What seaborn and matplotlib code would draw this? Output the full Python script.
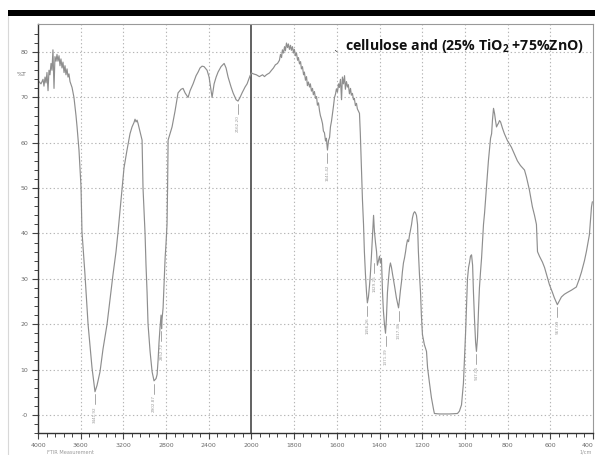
import numpy as np
import pandas as pd
import matplotlib
matplotlib.use("Agg")
import matplotlib.pyplot as plt
import seaborn as sns
from matplotlib.ticker import FixedLocator, NullFormatter
from matplotlib.patches import Rectangle
from matplotlib.lines import Line2D

# ---------------- data ----------------
wavenumber = [
    3991, 3972, 3953, 3944, 3934, 3925, 3916, 3906, 3897, 3888, 3878, 3869, 3860, 3850,
    3841, 3831, 3822, 3813, 3803, 3794, 3785, 3775, 3766, 3756, 3747, 3738, 3728, 3719,
    3710, 3700, 3681, 3663, 3644, 3634, 3616, 3597, 3588, 3560, 3531, 3494, 3466, 3447,
    3419, 3391, 3353, 3325, 3297, 3269, 3250, 3232, 3213, 3194, 3166, 3138, 3119, 3100,
    3091, 3081, 3072, 3063, 3044, 3025, 3016, 3006, 2997, 2988, 2978, 2969, 2950, 2931,
    2913, 2894, 2884, 2875, 2866, 2856, 2847, 2842, 2838, 2828, 2819, 2809, 2800, 2791,
    2786, 2781, 2763, 2744, 2716, 2688, 2660, 2641, 2622, 2594, 2575, 2547, 2519, 2500,
    2482, 2463, 2444, 2416, 2397, 2388, 2378, 2369, 2360, 2350, 2331, 2313, 2285, 2256,
    2238, 2219, 2191, 2172, 2144, 2126, 2107, 2088, 2060, 2041, 2013, 2000,
    1991, 1977, 1963, 1948, 1939, 1930, 1916, 1906, 1897, 1888, 1878, 1869, 1864, 1859,
    1855, 1850, 1845, 1841, 1836, 1831, 1827, 1822, 1817, 1813, 1808, 1803, 1799, 1794,
    1789, 1784, 1780, 1775, 1770, 1766, 1761, 1756, 1752, 1747, 1742, 1738, 1733, 1728,
    1724, 1719, 1714, 1710, 1705, 1700, 1695, 1691, 1686, 1681, 1677, 1672, 1667, 1663,
    1658, 1653, 1649, 1644, 1639, 1634, 1630, 1625, 1620, 1616, 1611, 1606, 1602, 1597,
    1592, 1588, 1583, 1578, 1574, 1569, 1564, 1560, 1555, 1550, 1546, 1541, 1536, 1532,
    1527, 1522, 1518, 1513, 1508, 1504, 1499, 1494, 1490, 1485, 1480, 1475, 1471, 1466,
    1461, 1457, 1452, 1447, 1443, 1438, 1433, 1428, 1424, 1419, 1414, 1410, 1405, 1400,
    1396, 1391, 1386, 1382, 1377, 1372, 1368, 1363, 1358, 1353, 1349, 1344, 1339, 1330,
    1321, 1311, 1307, 1302, 1297, 1293, 1288, 1283, 1278, 1274, 1269, 1264, 1260, 1255,
    1250, 1246, 1241, 1236, 1232, 1227, 1222, 1218, 1213, 1208, 1204, 1199, 1194, 1190,
    1180, 1175, 1166, 1157, 1147, 1143, 1119, 1073, 1035, 1026, 1016, 1007, 1002, 997,
    993, 988, 983, 978, 974, 969, 964, 960, 955, 950, 946, 941, 936, 932, 927, 922, 918,
    913, 908, 904, 899, 894, 890, 885, 880, 875, 871, 866, 861, 857, 852, 847, 843, 838,
    833, 829, 824, 815, 801, 782, 768, 754, 740, 721, 712, 698, 684, 674, 665, 660, 651,
    637, 627, 618, 604, 590, 581, 571, 567, 557, 548, 534, 520, 501, 478, 464, 454, 440,
    431, 417, 407, 403,
]
transmittance = [
    73.5, 73.0, 74.0, 72.5, 74.5, 73.2, 75.5, 71.5, 76.0, 75.0, 77.5, 76.0, 80.5, 72.0,
    79.0, 78.0, 79.5, 78.0, 79.2, 77.0, 78.5, 76.5, 77.8, 75.5, 77.0, 75.0, 76.3, 74.5,
    75.2, 73.5, 72.2, 70.0, 66.0, 63.5, 58.4, 50.3, 40.4, 31.0, 20.0, 10.4, 5.1, 6.5,
    9.5, 14.5, 20.0, 25.5, 31.0, 36.0, 40.4, 45.0, 50.0, 54.5, 58.4, 62.0, 63.5, 64.5,
    65.2, 64.6, 65.0, 64.3, 62.5, 60.6, 50.0, 45.0, 40.0, 33.0, 27.0, 20.0, 14.0, 9.5,
    7.5, 8.0, 8.9, 12.0, 16.0, 19.5, 22.0, 19.0, 21.0, 23.6, 29.0, 34.6, 38.0, 42.0,
    50.0, 60.6, 62.0, 63.5, 67.0, 71.0, 71.8, 72.0, 71.0, 70.0, 71.5, 73.0, 74.8, 75.6,
    76.5, 76.9, 76.8, 76.0, 74.5, 73.0, 71.5, 70.0, 71.5, 73.0, 74.5, 75.6, 76.8, 77.5,
    76.5, 74.5, 72.3, 71.0, 69.5, 69.2, 70.0, 71.0, 72.3, 73.0, 74.8, 75.4,
    75.2, 75.0, 74.6, 75.0, 74.6, 75.0, 75.4, 76.0, 76.5, 77.2, 77.5, 78.2, 79.5, 78.8,
    80.5, 79.8, 81.2, 80.3, 82.0, 81.0, 81.8, 80.6, 81.5, 80.4, 81.2, 79.8, 80.6, 79.2,
    79.8, 78.2, 78.8, 77.4, 77.9, 76.3, 76.8, 75.0, 75.6, 73.8, 74.6, 72.6, 73.4, 72.3,
    73.0, 71.4, 72.0, 70.6, 71.3, 69.8, 70.2, 68.3, 68.8, 67.0, 66.0, 65.2, 64.2, 62.6,
    62.2, 60.4, 61.0, 58.4, 60.5, 61.2, 63.5, 64.8, 66.5, 68.0, 70.0, 70.8, 71.9, 71.2,
    73.0, 72.2, 74.0, 69.5, 74.5, 73.0, 74.8, 71.8, 73.5, 72.3, 72.8, 70.8, 72.0, 70.5,
    70.9, 69.5, 69.8, 68.2, 68.7, 67.5, 67.0, 66.5, 62.0, 55.0, 47.4, 42.0, 36.0, 31.0,
    27.0, 24.7, 26.0, 28.5, 31.0, 35.0, 39.7, 44.0, 40.5, 38.0, 36.0, 33.0, 34.0, 35.0,
    33.5, 34.5, 27.0, 23.0, 20.0, 18.0, 21.0, 27.0, 30.0, 32.5, 33.5, 32.5, 31.0, 28.5,
    25.8, 23.6, 25.2, 27.5, 29.4, 31.5, 33.5, 34.6, 36.0, 37.4, 38.6, 38.2, 39.5, 40.8,
    42.0, 43.4, 44.4, 44.8, 44.6, 44.0, 42.0, 36.0, 31.0, 27.0, 22.0, 17.7, 16.5, 15.5,
    14.0, 10.4, 7.0, 3.8, 1.2, 0.3, 0.2, 0.2, 0.3, 0.8, 2.2, 7.0, 12.6, 18.0,
    23.6, 30.0, 32.5, 33.7, 35.0, 35.3, 33.0, 27.0, 21.0, 16.0, 14.0, 17.0, 23.6, 28.0, 31.5, 34.6, 38.0,
    42.0, 44.5, 47.0, 50.0, 53.0, 56.0, 58.5, 61.0, 62.0, 65.0, 67.6, 66.4, 65.0, 63.5, 64.0, 64.3, 64.9,
    64.6, 64.0, 63.2, 62.0, 60.5, 59.0, 57.5, 56.0, 55.0, 54.0, 52.5, 49.6, 45.9, 44.0, 42.0, 36.0, 35.0,
    33.7, 32.5, 31.0, 28.7, 27.0, 25.8, 24.7, 24.3, 25.2, 26.0, 26.6, 27.0, 27.5, 28.2, 30.0, 31.5, 34.0,
    36.0, 39.7, 45.9, 47.0,
]

# labelled peaks (position, %T at minimum, label text)
peak_pos = [3466, 2913, 2845, 2126, 1644, 1457, 1424, 1372, 1311, 946, 567]
peak_T = [5.1, 7.5, 19.0, 69.2, 58.4, 24.7, 34.0, 18.0, 23.6, 14.0, 24.3]
peak_labels = ["3441.92", "2902.87", "2852.72", "2162.20", "1641.42", "1456.26",
               "1429.25", "1371.39", "1317.38", "947.05", "567.09"]

major_x = [4000, 3600, 3200, 2800, 2400, 2000, 1800, 1600, 1400, 1200, 1000, 800, 600, 400]
major_y = [0, 10, 20, 30, 40, 50, 60, 70, 80]
y_tick_labels = ["-0", "10", "20", "30", "40", "50", "60", "70", "80"]
title_text = r"cellulose and (25% TiO$_{\mathbf{2}}$ +75%ZnO)"

df = pd.DataFrame({"wavenumber": wavenumber, "T": transmittance})

# ---------------- style ----------------
sns.set_theme(style="white")
plt.rcParams["font.family"] = ["DejaVu Sans"]
plt.rcParams["mathtext.fontset"] = "custom"
plt.rcParams["mathtext.bf"] = "Open Sans:bold"
plt.rcParams["mathtext.rm"] = "Open Sans"

W, H = 595, 455
fig = plt.figure(figsize=(W / 100, H / 100), dpi=100)
fig.patch.set_facecolor("white")
ax = fig.add_axes([38 / W, (H - 433) / H, (593 - 38) / W, (433 - 24) / H])

line_col = "#8e8e8e"
grid_col = "#b5b5b5"
txt_col = "#6a6a6a"


def fwd(x):
    x = np.asarray(x, dtype=float)
    return np.where(x >= 2000, (x - 2000) / 400.0, (x - 2000) / 200.0)


def inv(u):
    u = np.asarray(u, dtype=float)
    return np.where(u >= 0, u * 400.0 + 2000, u * 200.0 + 2000)


ax.set_xscale("function", functions=(fwd, inv))
sns.lineplot(data=df, x="wavenumber", y="T", ax=ax, color=line_col, lw=0.85,
             estimator=None, sort=False)
ax.set_xlim(4000, 400)
ax.set_ylim(-4, 86.2)

# grid
for xv in major_x[1:-1]:
    if xv == 2000:
        ax.axvline(xv, color="#555555", lw=1.3, zorder=1)
    else:
        ax.axvline(xv, color=grid_col, lw=0.8, ls=(0, (1.2, 2.2)), zorder=0)
for yv in major_y:
    ax.axhline(yv, color=grid_col, lw=0.8, ls=(0, (1.2, 2.2)), zorder=0)

# ticks
minor_x = list(np.arange(4000, 2000, -80)) + list(np.arange(2000, 399, -40))
ax.xaxis.set_major_locator(FixedLocator(major_x))
ax.xaxis.set_minor_locator(FixedLocator(minor_x))
ax.xaxis.set_minor_formatter(NullFormatter())
ax.set_xticklabels([str(v) for v in major_x])
ax.yaxis.set_major_locator(FixedLocator(major_y))
ax.yaxis.set_minor_locator(FixedLocator(list(np.arange(-4, 86, 2))))
ax.set_yticklabels(y_tick_labels)
ax.tick_params(axis="both", which="major", direction="out", length=4.5, width=0.8,
               color="#444444", labelsize=4.5, labelcolor=txt_col, pad=2.5)
ax.tick_params(axis="both", which="minor", direction="out", length=3, width=0.7,
               color="#444444")
ax.tick_params(axis="y", which="both", left=True)
ax.tick_params(axis="x", which="both", bottom=True)
ax.get_xticklabels()[-1].set_horizontalalignment("right")
ax.set_xlabel("")
ax.set_ylabel("")
for s in ["left", "bottom"]:
    ax.spines[s].set_color("#333333")
    ax.spines[s].set_linewidth(1.0)
for s in ["top", "right"]:
    ax.spines[s].set_color("#999999")
    ax.spines[s].set_linewidth(0.8)

ax.text(-0.03, 75, "%T", transform=ax.get_yaxis_transform(), fontsize=4.5,
        color=txt_col, ha="center", va="center")

# peak annotations
for p, t, lab in zip(peak_pos, peak_T, peak_labels):
    ax.plot([p, p], [t - 0.6, t - 2.8], color="#9a9a9a", lw=0.6)
    ax.text(p, t - 3.2, lab, rotation=90, fontsize=3.0, color="#9a9a9a",
            ha="center", va="top")

# title
fig.text(345 / W, 1 - 46 / H, title_text, fontsize=10.2, fontweight="bold",
         family="Open Sans", color="#111111", ha="left", va="center")
fig.text(336 / W, 1 - 47 / H, "\u02ce", fontsize=7, color="#333333",
         ha="center", va="center")

# footnotes
fig.text(47 / W, 1 - 452 / H, "FTIR Measurement", fontsize=3.6, color="#9a9a9a",
         ha="left", va="center")
fig.text(592 / W, 1 - 452 / H, "1/cm", fontsize=3.6, color="#9a9a9a",
         ha="right", va="center")

# frame decorations
fig.add_artist(Rectangle((8 / W, 1 - 15.5 / H), 1, 6 / H, transform=fig.transFigure,
                         color="black", lw=0))
fig.add_artist(Line2D([7.5 / W, 7.5 / W], [0, 1 - 15.5 / H], transform=fig.transFigure,
                      color="#d8d8d8", lw=0.8))

fig.savefig("out.png", dpi=100, facecolor="white")
